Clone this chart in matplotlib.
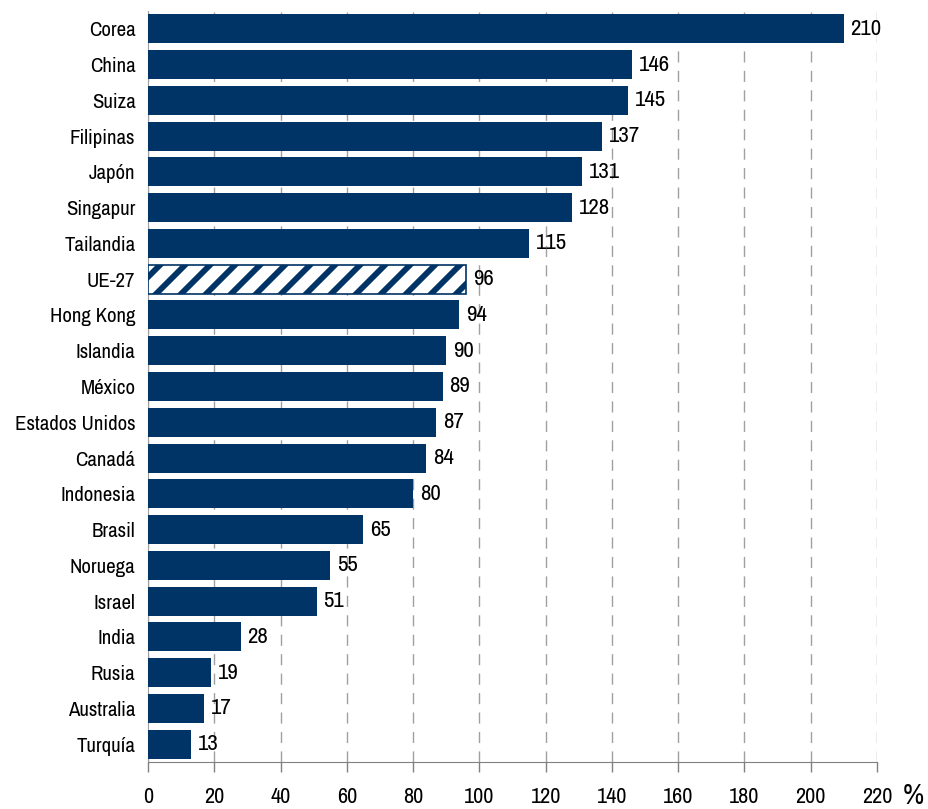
import matplotlib
matplotlib.use("Agg")
import matplotlib.pyplot as plt
import matplotlib.backend_bases as bb

countries = ["Corea", "China", "Suiza", "Filipinas", "Japón", "Singapur", "Tailandia",
             "UE-27", "Hong Kong", "Islandia", "México", "Estados Unidos", "Canadá",
             "Indonesia", "Brasil", "Noruega", "Israel", "India", "Rusia", "Australia", "Turquía"]
values = [210, 146, 145, 137, 131, 128, 115, 96, 94, 90, 89, 87, 84, 80, 65, 55, 51, 28, 19, 17, 13]
xticks = list(range(0, 221, 20))
highlight = "UE-27"

# coarser hatch spacing
_orig_hatch = bb.GraphicsContextBase.get_hatch_path
bb.GraphicsContextBase.get_hatch_path = lambda self, density=6.0: _orig_hatch(self, 4.0)

navy = "#003366"
plt.rcParams['font.family'] = ['Archivo Narrow', 'Liberation Sans', 'DejaVu Sans']
plt.rcParams['hatch.linewidth'] = 4.2
plt.rcParams['hatch.color'] = navy

fs = 15

fig = plt.figure(figsize=(9.29, 8.09), dpi=100)
ax = fig.add_axes([148/929, 1-762/809, (877-148)/929, (762-11)/809])

ypos = list(range(len(countries)))
for y, c, v in zip(ypos, countries, values):
    if c == highlight:
        ax.barh(y, v, height=0.81, color="white", edgecolor=navy, hatch="//", linewidth=1.2, zorder=3)
    else:
        ax.barh(y, v, height=0.81, color=navy, edgecolor="none", zorder=3)
    ax.text(v + 2, y, str(v), va="center", ha="left", fontsize=16.5, color="black", zorder=4)

ax.set_ylim(len(countries) - 0.5, -0.5)
ax.set_xlim(0, 220)
ax.set_yticks(ypos)
ax.set_yticklabels(countries, fontsize=fs)
ax.tick_params(axis="y", length=0, pad=9)
ax.set_xticks(xticks)
ax.set_xticklabels([str(t) for t in xticks], fontsize=16)
ax.tick_params(axis="x", length=7, width=1, color="#808080", pad=11, direction="out")

ax.xaxis.grid(True, color="#a0a0a0", linestyle=(0, (8, 6)), linewidth=1, zorder=0)
ax.set_axisbelow(True)
for s in ["top", "right"]:
    ax.spines[s].set_visible(False)
ax.spines["left"].set_color("#a0a0a0")
ax.spines["bottom"].set_color("#808080")

fig.text(913/929, 1-796/809, "%", fontsize=21, ha="center", va="center")

fig.savefig("out.png", dpi=100)
